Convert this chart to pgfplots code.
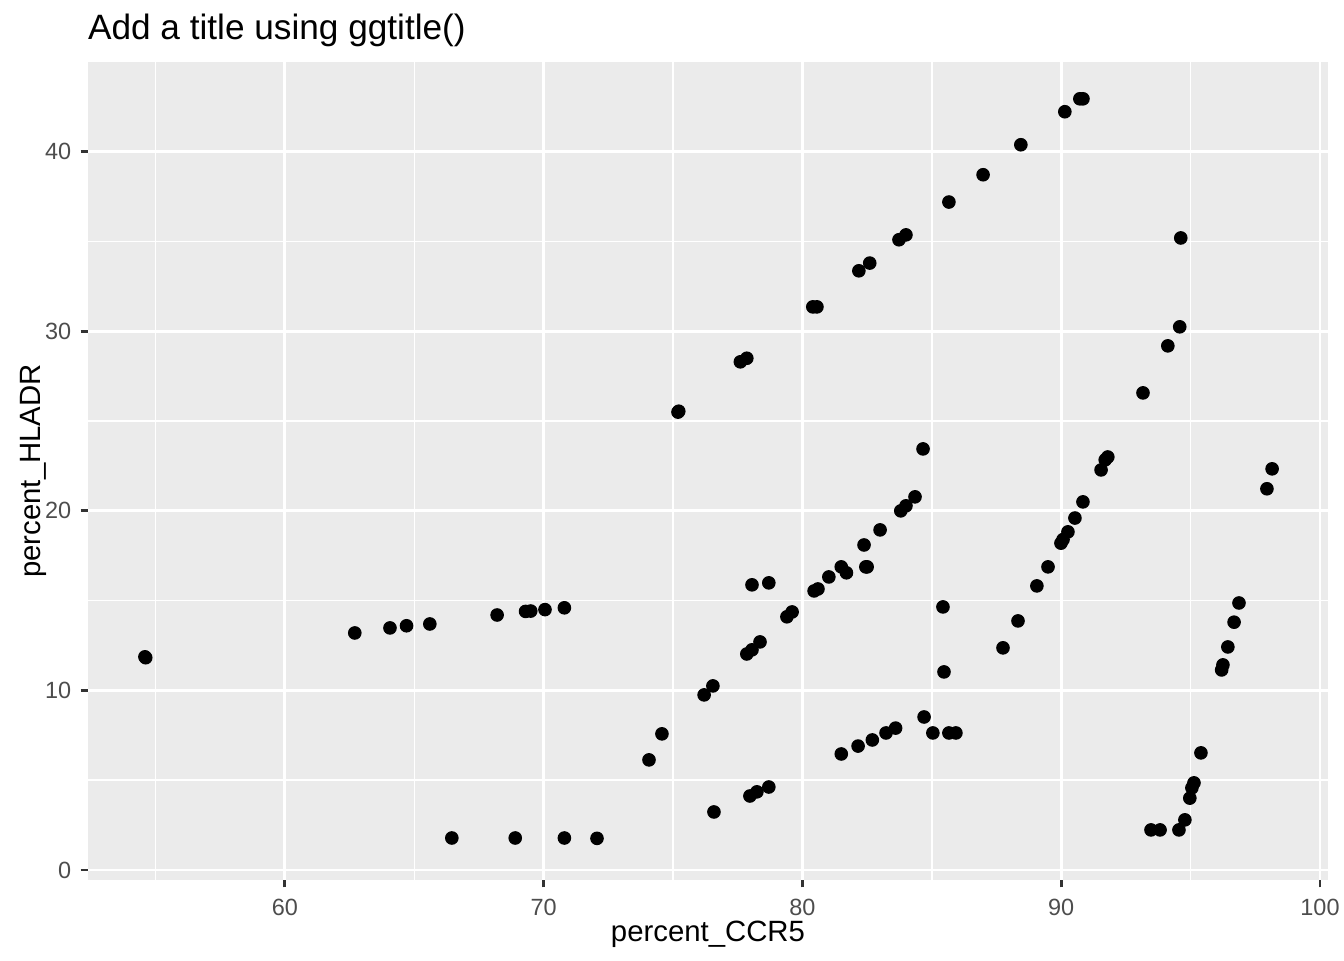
\documentclass[border=0pt]{standalone}
\usepackage{pgfplots}
\pgfplotsset{compat=1.18}
\usepackage{fontspec}
\setmainfont{Liberation Sans}
\definecolor{gray92}{HTML}{EBEBEB}
\definecolor{gray20}{HTML}{333333}
\definecolor{gray30}{HTML}{4D4D4D}
\begin{document}
\begin{tikzpicture}
\useasboundingbox (0,0) rectangle (504pt,360pt);
\begin{axis}[
  at={(33pt,30pt)}, anchor=south west,
  scale only axis, width=465pt, height=306.75pt,
  xmin=52.39, xmax=100.31, ymin=-0.56, ymax=45.0,
  axis background/.style={fill=gray92},
  axis line style={draw=none},
  xtick={60,70,80,90,100}, ytick={0,10,20,30,40},
  minor xtick={55,65,75,85,95}, minor ytick={5,15,25,35},
  grid=both,
  major grid style={white, line width=1.07pt},
  minor grid style={white, line width=0.53pt},
  tick align=outside, xtick pos=bottom, ytick pos=left,
  major tick length=2.75pt, minor tick length=0pt,
  major tick style={gray20, line width=1.07pt},
  minor tick style={draw=none},
  /pgf/number format/assume math mode=true,
  ticklabel style={font=\fontsize{8.8}{10}\selectfont, text=gray30},
  xticklabel style={yshift=-1pt},
  yticklabel style={xshift=0pt},
  label style={font=\fontsize{11}{13}\selectfont},
  xlabel={percent\_CCR5}, ylabel={percent\_HLADR},
  xlabel style={yshift=5pt},
  ylabel style={yshift=-7.5pt},
  title={Add a title using ggtitle()},
  title style={font=\fontsize{13.2}{15}\selectfont, anchor=south west, at={(0,1)}, xshift=-3.5pt, yshift=-4pt},
  clip=false,
]
\addplot[only marks, mark=*, mark size=2.35pt, mark options={fill=black, draw=none}] table {
x y
54.59 11.87
54.62 11.82
62.70 13.20
64.06 13.48
64.70 13.60
65.60 13.70
68.20 14.20
69.30 14.40
69.50 14.42
70.05 14.50
70.80 14.60
66.45 1.78
68.90 1.78
70.80 1.78
72.06 1.76
74.07 6.13
74.57 7.58
75.19 25.50
75.22 25.55
76.20 9.75
76.54 10.25
76.58 3.23
77.60 28.30
77.85 28.50
77.85 12.03
78.05 12.26
78.36 12.70
77.97 4.12
78.24 4.35
78.70 4.62
78.05 15.88
78.70 15.99
79.40 14.10
79.60 14.37
80.40 31.36
80.56 31.36
80.45 15.54
80.60 15.65
81.02 16.32
81.50 16.88
81.70 16.55
81.50 6.46
82.18 33.37
82.60 33.80
82.38 18.10
82.45 16.88
82.50 16.88
82.15 6.90
82.70 7.24
83.00 18.94
83.23 7.63
83.60 7.90
83.73 35.10
84.00 35.37
83.80 20.00
84.00 20.28
84.35 20.78
84.66 23.45
84.70 8.52
85.04 7.63
85.43 14.65
85.47 11.03
85.66 7.63
85.93 7.63
85.66 37.20
86.98 38.72
87.75 12.37
88.33 13.87
88.44 40.39
89.06 15.82
89.49 16.88
89.99 18.20
90.07 18.40
90.26 18.83
90.53 19.60
90.84 20.50
90.14 42.23
90.72 42.95
90.84 42.95
91.54 22.28
91.70 22.84
91.80 23.00
93.16 26.57
94.12 29.19
94.58 30.25
94.62 35.20
93.47 2.23
93.82 2.23
94.55 2.23
94.78 2.79
94.97 4.00
95.05 4.57
95.13 4.85
95.40 6.52
96.20 11.14
96.25 11.42
96.44 12.42
96.68 13.80
96.87 14.87
97.95 21.23
98.15 22.34
};
\end{axis}
\end{tikzpicture}
\end{document}
